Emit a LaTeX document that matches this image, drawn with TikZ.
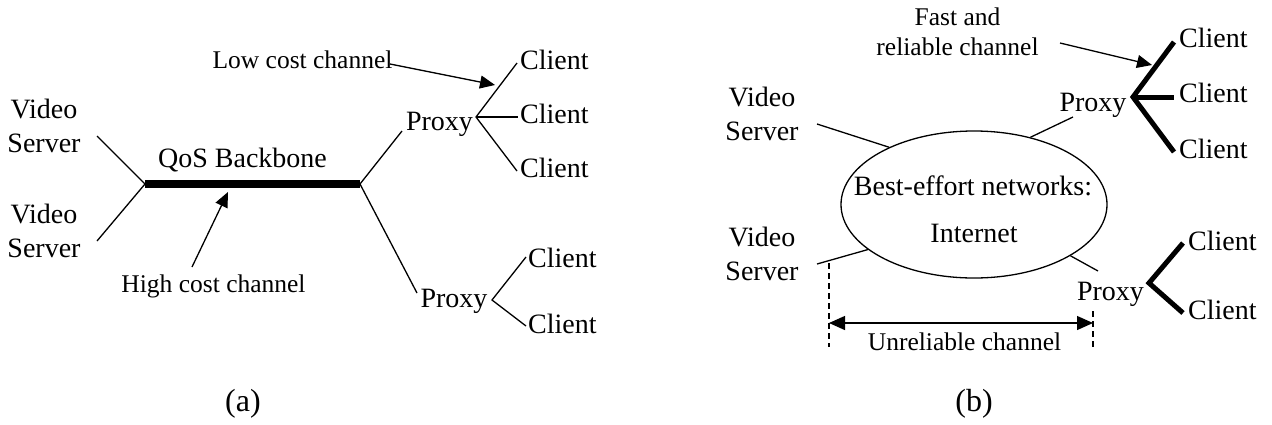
\documentclass[tikz,border=0pt]{standalone}
\usepackage{fontspec}
\setmainfont{Liberation Serif}
\usetikzlibrary{arrows.meta,shapes.geometric}

\tikzset{
  main/.style={font=\fontsize{28}{34}\selectfont, inner sep=0pt},
  lbl/.style={font=\fontsize{25.5}{30}\selectfont, inner sep=0pt},
  caption/.style={font=\fontsize{32}{38}\selectfont, inner sep=0pt},
  wire/.style={line width=1.3pt},
  heavy/.style={line width=5pt, line join=miter},
  backbone/.style={line width=8pt},
  pointer/.style={line width=1.3pt, -{Triangle[length=15pt,width=13pt]}},
  span/.style={line width=1.3pt, {Triangle[length=16pt,width=14pt]}-{Triangle[length=16pt,width=14pt]}},
  guide/.style={line width=1.2pt, dash pattern=on 6pt off 4pt},
}

\begin{document}
\begin{tikzpicture}[x=1pt, y=-1pt]
  \fill[white] (0,0) rectangle (1272,424);
  \useasboundingbox (0,0) rectangle (1272,424);

  % ---------------- (a) QoS backbone ----------------
  \node[main, align=center] (vs1) at (44,125.5) {Video\\Server};
  \node[main, align=center] (vs2) at (44,230.5) {Video\\Server};
  \node[main, anchor=base] (qos) at (242.5,167) {QoS Backbone};
  \node[lbl, anchor=base] (hcc) at (213.5,292) {High cost channel};
  \node[lbl, anchor=base] (lcc) at (302.5,68) {Low cost channel};
  \node[main, anchor=base] (pa1) at (439.5,130) {Proxy};
  \node[main, anchor=base] (pa2) at (454,307) {Proxy};
  \node[main, anchor=base west] (ca1) at (520,69) {Client};
  \node[main, anchor=base west] (ca2) at (520,123) {Client};
  \node[main, anchor=base west] (ca3) at (520,177) {Client};
  \node[main, anchor=base west] (ca4) at (528,267) {Client};
  \node[main, anchor=base west] (ca5) at (528,333) {Client};
  \node[caption, anchor=base] (capa) at (243,411) {(a)};

  \coordinate (s1) at (97,136);
  \coordinate (s2) at (97,241);
  \coordinate (bbL) at (145,184);
  \coordinate (bbR) at (360,184);
  \coordinate (pa1foot) at (402,131);
  \coordinate (pa2top) at (417,293);
  \coordinate (fa1) at (476,117);
  \coordinate (ea1) at (517,63);
  \coordinate (ea2) at (518,117);
  \coordinate (ea3) at (517,171);
  \coordinate (fa2) at (492,300);
  \coordinate (ea4) at (526,257);
  \coordinate (ea5) at (526,326);
  \coordinate (hcTail) at (192,267);
  \coordinate (hcTip) at (228,192);
  \coordinate (lcTail) at (390,64);
  \coordinate (lcTip) at (495,85);

  \draw[backbone] (bbL) -- (bbR);
  \draw[wire] (s1) -- (bbL) -- (s2);
  \draw[wire] (pa1foot) -- (bbR) -- (pa2top);
  \draw[wire] (ea1) -- (fa1) -- (ea3);
  \draw[wire] (fa1) -- (ea2);
  \draw[wire] (ea4) -- (fa2) -- (ea5);
  \draw[pointer] (hcTail) -- (hcTip);
  \draw[pointer] (lcTail) -- (lcTip);

  % ---------------- (b) best-effort Internet ----------------
  \node[draw, line width=1.3pt, ellipse, minimum width=266pt, minimum height=147pt,
        inner sep=0pt] (net) at (974,204.5) {};
  \node[main, anchor=base] (bent) at (973,195) {Best-effort networks:};
  \node[main, anchor=base] (inet) at (974,242) {Internet};
  \node[lbl, align=center] (frc) at (957.5,31.3) {Fast and\\reliable channel};
  \node[main, align=center] (vs3) at (762,113.5) {Video\\Server};
  \node[main, align=center] (vs4) at (762,253.5) {Video\\Server};
  \node[main, anchor=base] (pb1) at (1093,111) {Proxy};
  \node[main, anchor=base] (pb2) at (1110.5,300) {Proxy};
  \node[main, anchor=base west] (cb1) at (1179,47) {Client};
  \node[main, anchor=base west] (cb2) at (1179,102) {Client};
  \node[main, anchor=base west] (cb3) at (1179,158) {Client};
  \node[main, anchor=base west] (cb4) at (1188,250) {Client};
  \node[main, anchor=base west] (cb5) at (1188,319) {Client};
  \node[lbl, anchor=base] (urc) at (964.5,350) {Unreliable channel};
  \node[caption, anchor=base] (capb) at (974,411) {(b)};

  \coordinate (vb1) at (817,124);
  \coordinate (vb2) at (817,264);
  \coordinate (pb1foot) at (1073,117);
  \coordinate (pb2top) at (1098,271);
  \coordinate (fb1) at (1133,97);
  \coordinate (eb1) at (1174,42);
  \coordinate (eb2) at (1174,97);
  \coordinate (eb3) at (1174,152);
  \coordinate (fb2) at (1149,283);
  \coordinate (eb4) at (1183,243);
  \coordinate (eb5) at (1183,313);
  \coordinate (frTail) at (1060,43);
  \coordinate (frTip) at (1152,65);
  \coordinate (gLtop) at (829,263);
  \coordinate (gLbot) at (829,347);
  \coordinate (gRtop) at (1093,311);
  \coordinate (gRbot) at (1093,347);
  \coordinate (uL) at (829,323);
  \coordinate (uR) at (1093,323);

  \draw[wire] (vb1) -- (net.146.9);
  \draw[wire] (pb1foot) -- (net.50);
  \draw[wire] (vb2) -- (net.203.3);
  \draw[wire] (net.332) -- (pb2top);
  \draw[heavy] (eb1) -- (fb1) -- (eb3);
  \draw[heavy] (fb1) -- (eb2);
  \draw[heavy] (eb4) -- (fb2) -- (eb5);
  \draw[pointer] (frTail) -- (frTip);
  \draw[guide] (gLtop) -- (gLbot);
  \draw[guide] (gRtop) -- (gRbot);
  \draw[span] (uL) -- (uR);
\end{tikzpicture}
\end{document}
